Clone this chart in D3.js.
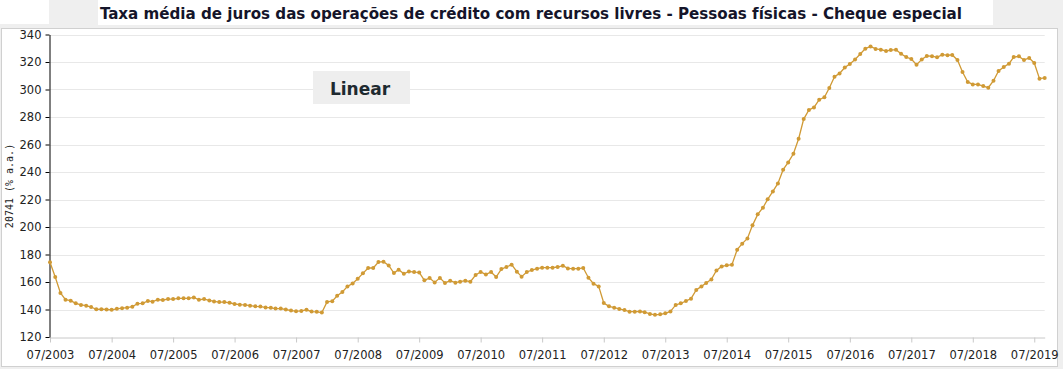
<!DOCTYPE html>
<html>
<head>
<meta charset="utf-8">
<script src="https://cdn.jsdelivr.net/npm/d3@7"></script>
<style>
  html, body { margin: 0; padding: 0; background: #efefef; }
  svg { display: block; }
</style>
</head>
<body>
<svg id="chart" width="1063" height="369"></svg>
<script>
// Serie 20741 - cheque especial, mensal, 07/2003 a 09/2019
const startMonth = "2003-07";
const values = [
  174.3, 163.6, 152.0, 147.1, 146.4, 144.5, 143.3, 142.8, 141.8, 140.1,
  140.2, 140.0, 139.8, 140.5, 141.0, 141.3, 142.0, 144.2, 144.5, 146.2,
  145.7, 147.1, 146.9, 147.6, 147.6, 148.1, 148.1, 148.1, 148.8, 147.1,
  147.6, 146.6, 145.9, 145.4, 145.4, 144.9, 144.0, 143.5, 143.3, 142.8,
  142.3, 142.1, 141.5, 141.2, 140.7, 140.7, 140.0, 139.2, 138.8, 139.0,
  139.8, 138.5, 138.3, 137.8, 145.5, 146.0, 150.0, 152.7, 156.8, 159.0,
  162.4, 166.3, 170.2, 170.2, 174.5, 174.8, 172.0, 166.5, 169.0, 166.0,
  167.7, 167.2, 167.0, 161.2, 162.9, 159.7, 163.0, 159.3, 161.0, 159.5,
  160.2, 161.0, 160.2, 165.1, 167.3, 165.5, 167.3, 163.6, 169.4, 170.9,
  172.6, 167.5, 163.9, 167.3, 168.7, 169.7, 170.4, 170.4, 170.4, 170.9,
  171.9, 169.9, 169.7, 169.7, 170.2, 163.1, 158.8, 156.8, 144.7, 142.3,
  141.3, 140.4, 139.6, 138.4, 138.4, 138.6, 138.0, 136.8, 136.1, 136.5,
  137.2, 138.6, 143.3, 144.5, 146.2, 147.9, 154.2, 156.8, 159.3, 161.9,
  168.4, 171.3, 172.1, 172.6, 183.5, 187.9, 191.7, 201.2, 209.2, 214.0,
  220.1, 225.9, 231.7, 241.7, 247.0, 253.3, 264.2, 278.5, 285.1, 287.0,
  292.6, 294.3, 301.1, 309.3, 311.7, 316.0, 318.6, 321.8, 325.8, 329.7,
  331.3, 329.5, 329.0, 328.0, 328.7, 329.0, 326.0, 323.6, 322.2, 318.0,
  321.9, 324.4, 324.2, 323.4, 325.3, 325.0, 325.1, 321.5, 312.7, 305.5,
  303.7, 303.7, 302.5, 301.3, 306.4, 313.5, 316.4, 318.8, 323.6, 324.1,
  321.5, 322.9, 319.3, 307.9, 308.4
];
const xTickLabels = ["07/2003", "07/2004", "07/2005", "07/2006", "07/2007", "07/2008",
  "07/2009", "07/2010", "07/2011", "07/2012", "07/2013", "07/2014", "07/2015",
  "07/2016", "07/2017", "07/2018", "07/2019"];
const yTicks = [120, 140, 160, 180, 200, 220, 240, 260, 280, 300, 320, 340];
const titleText = "Taxa média de juros das operações de crédito com recursos livres - Pessoas físicas - Cheque especial";
const yLabel = "20741 (% a.a.)";

const parseMonth = d3.timeParse("%Y-%m");
const parseTick = d3.timeParse("%m/%Y");
const start = parseMonth(startMonth);
const data = values.map((v, i) => ({ date: d3.timeMonth.offset(start, i), value: v }));

const svg = d3.select("#chart");
const lineColor = "#d09a35";

// top boxes
svg.append("rect").attr("x", 0).attr("y", 0).attr("width", 49).attr("height", 24).attr("fill", "#fff");
svg.append("rect").attr("x", 98).attr("y", 0).attr("width", 895).attr("height", 25).attr("fill", "#fff");
svg.append("text")
  .attr("x", 531).attr("y", 19)
  .attr("text-anchor", "middle")
  .attr("font-family", "'DejaVu Sans Condensed', 'Liberation Sans Narrow', sans-serif")
  .attr("font-weight", "bold")
  .attr("font-size", 16)
  .attr("fill", "#15152a")
  .attr("textLength", 862)
  .attr("lengthAdjust", "spacingAndGlyphs")
  .text(titleText);

// main panel
svg.append("rect").attr("x", 1.5).attr("y", 28.5).attr("width", 1056).attr("height", 338)
  .attr("fill", "#fff").attr("stroke", "#d0d0d0");

const margin = { left: 50, right: 1044.7, top: 34.5, bottom: 337 };

const x = d3.scaleTime()
  .domain(d3.extent(data, d => d.date))
  .range([margin.left, margin.right]);

const y = d3.scaleLinear()
  .domain([120, 340])
  .range([margin.bottom, margin.top]);

// gridlines
svg.append("g")
  .selectAll("line")
  .data(yTicks.slice(1))
  .join("line")
  .attr("x1", margin.left).attr("x2", margin.right)
  .attr("y1", d => Math.round(y(d)) + 0.5).attr("y2", d => Math.round(y(d)) + 0.5)
  .attr("stroke", "#e8e8e8");

// x axis
const xAxis = svg.append("g")
  .attr("transform", `translate(0,${Math.round(margin.bottom) + 0.5})`)
  .call(d3.axisBottom(x)
    .tickValues(xTickLabels.map(parseTick))
    .tickFormat(d3.timeFormat("%m/%Y"))
    .tickSize(5)
    .tickSizeOuter(0));
xAxis.select(".domain").attr("stroke", "#c8c8c8");
xAxis.selectAll(".tick line").attr("stroke", "#c8c8c8");
xAxis.selectAll(".tick text")
  .attr("dy", 0).attr("y", 21)
  .attr("font-family", "'DejaVu Sans', Verdana, sans-serif")
  .attr("font-size", 11.5)
  .attr("fill", "#222");

// y axis
const yAxis = svg.append("g")
  .attr("transform", `translate(${margin.left - 0.5},0)`)
  .call(d3.axisLeft(y).tickValues(yTicks).tickSize(4).tickSizeOuter(0));
yAxis.select(".domain").attr("stroke", "#000");
yAxis.selectAll(".tick line").attr("stroke", "#000");
yAxis.selectAll(".tick text")
  .attr("x", -8)
  .attr("font-family", "'DejaVu Sans', Verdana, sans-serif")
  .attr("font-size", 11.5)
  .attr("fill", "#222");

svg.append("text")
  .attr("transform", "translate(13,186) rotate(-90)")
  .attr("text-anchor", "middle")
  .attr("font-family", "'DejaVu Sans Mono', monospace")
  .attr("font-size", 10)
  .attr("fill", "#222")
  .text(yLabel);

// Linear button
svg.append("rect").attr("x", 313).attr("y", 71).attr("width", 97).attr("height", 33).attr("fill", "#eeeeee");
svg.append("text")
  .attr("x", 360).attr("y", 95)
  .attr("text-anchor", "middle")
  .attr("font-family", "'DejaVu Sans', Verdana, sans-serif")
  .attr("font-weight", "bold")
  .attr("font-size", 17)
  .attr("fill", "#1e2a30")
  .text("Linear");

// line + points
const line = d3.line().x(d => x(d.date)).y(d => y(d.value));
svg.append("path")
  .datum(data)
  .attr("fill", "none")
  .attr("stroke", lineColor)
  .attr("stroke-width", 1.3)
  .attr("d", line);

svg.append("g")
  .selectAll("circle")
  .data(data)
  .join("circle")
  .attr("cx", d => x(d.date))
  .attr("cy", d => y(d.value))
  .attr("r", 2)
  .attr("fill", lineColor);
</script>
</body>
</html>
